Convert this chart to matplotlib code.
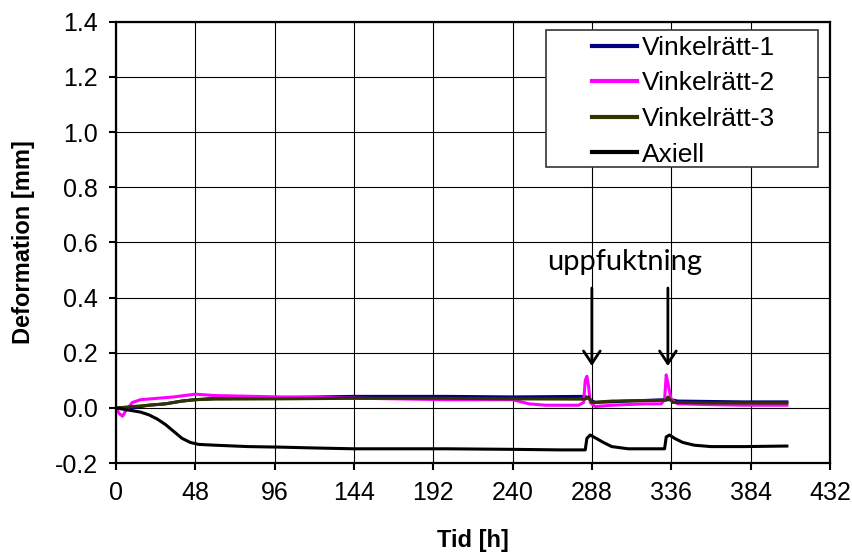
import matplotlib as mpl
mpl.use('Agg')
import matplotlib.pyplot as plt
from matplotlib.patches import Rectangle

plt.rcParams['font.family'] = ['Liberation Sans', 'DejaVu Sans']

# Axiell
t_ax = [0, 5, 10, 15, 20, 25, 30, 35, 40, 45, 50, 60, 80, 100, 120, 144, 170, 200, 240, 270,
        284, 285, 287, 290, 295, 300, 310, 320, 332, 333, 335, 338, 343, 350, 360, 380, 406]
v_ax = [0, -0.005, -0.01, -0.015, -0.025, -0.04, -0.06, -0.085, -0.11, -0.125, -0.132, -0.135,
        -0.14, -0.142, -0.145, -0.148, -0.148, -0.148, -0.15, -0.152, -0.152, -0.11, -0.098,
        -0.108, -0.125, -0.14, -0.148, -0.148, -0.148, -0.105, -0.098, -0.11, -0.125, -0.135,
        -0.14, -0.14, -0.138]

# Vinkelratt-2
t_v2 = [0, 2, 4, 6, 10, 15, 25, 35, 48, 60, 100, 150, 200, 240, 250, 260, 280, 283, 284, 285,
        286, 287, 290, 300, 320, 330, 332, 333, 334, 336, 340, 360, 380, 406]
v_v2 = [0, -0.02, -0.03, -0.01, 0.02, 0.03, 0.035, 0.04, 0.05, 0.045, 0.04, 0.035, 0.03, 0.03,
        0.015, 0.01, 0.01, 0.02, 0.1, 0.115, 0.08, 0.02, 0.005, 0.01, 0.015, 0.015, 0.03, 0.12,
        0.09, 0.03, 0.015, 0.012, 0.01, 0.01]

# Vinkelratt-1
t_v1 = [0, 10, 20, 30, 40, 48, 60, 100, 144, 200, 240, 284, 287, 290, 310, 333, 336, 340, 380, 406]
v_v1 = [0, 0.0, 0.01, 0.015, 0.025, 0.03, 0.035, 0.038, 0.042, 0.042, 0.04, 0.042, 0.03, 0.02,
        0.025, 0.03, 0.03, 0.025, 0.022, 0.022]

# Vinkelratt-3
t_v3 = [0, 10, 20, 30, 40, 48, 60, 100, 144, 200, 240, 284, 286, 288, 300, 333, 334, 337, 360, 406]
v_v3 = [0, 0.005, 0.01, 0.015, 0.025, 0.03, 0.032, 0.033, 0.035, 0.035, 0.033, 0.032, 0.04, 0.02,
        0.025, 0.028, 0.04, 0.02, 0.018, 0.018]

x_ticks = [0, 48, 96, 144, 192, 240, 288, 336, 384, 432]
y_ticks = [-0.2, 0.0, 0.2, 0.4, 0.6, 0.8, 1.0, 1.2, 1.4]
events = [288, 334]

fig = plt.figure(figsize=(8.52, 5.58), dpi=100)
ax = fig.add_axes([0.136, 0.170, 0.838, 0.791])

l1, = ax.plot(t_v1, v_v1, color='#000080', lw=2.2, label='Vinkelrätt-1')
l2, = ax.plot(t_v2, v_v2, color='#FF00FF', lw=2.2, label='Vinkelrätt-2')
l3, = ax.plot(t_v3, v_v3, color='#333300', lw=2.2, label='Vinkelrätt-3')
l4, = ax.plot(t_ax, v_ax, color='black', lw=2.2, label='Axiell')

ax.set_xlim(0, 432)
ax.set_ylim(-0.2, 1.4)
ax.set_xticks(x_ticks)
ax.set_yticks(y_ticks)
ax.set_yticklabels([f'{v:.1f}' for v in y_ticks])
ax.grid(True, color='black', lw=0.8)
ax.tick_params(labelsize=18, direction='out', length=5, width=1.5, pad=8)
for s in ax.spines.values():
    s.set_linewidth(1.6)

ax.set_xlabel('Tid [h]', fontsize=17, fontweight='bold', labelpad=17)
ax.set_ylabel('Deformation [mm]', fontsize=17, fontweight='bold', labelpad=14)

for ev in events:
    ax.annotate('', xy=(ev, 0.142), xytext=(ev, 0.445),
                arrowprops=dict(arrowstyle='->,head_length=0.9,head_width=0.6', color='black', lw=2))
ax.text(308, 0.53, 'uppfuktning', fontsize=21, family=['Lato', 'DejaVu Sans'],
        ha='center', va='center')

# legend box drawn separately, as the original has wide side padding
ax.add_patch(Rectangle((0.602, 0.671), 0.381, 0.311, transform=ax.transAxes,
                       facecolor='white', edgecolor='#333333', lw=1.2, zorder=4))
leg = ax.legend(handles=[l1, l2, l3, l4], loc='upper left', bbox_to_anchor=(0.667, 0.968),
                fontsize=19, frameon=False, handlelength=1.7, labelspacing=0.44,
                borderpad=0, borderaxespad=0, handletextpad=0.2)
leg.set_zorder(5)
for h in leg.legend_handles:
    h.set_linewidth(3)

fig.savefig('out.png', dpi=100)
